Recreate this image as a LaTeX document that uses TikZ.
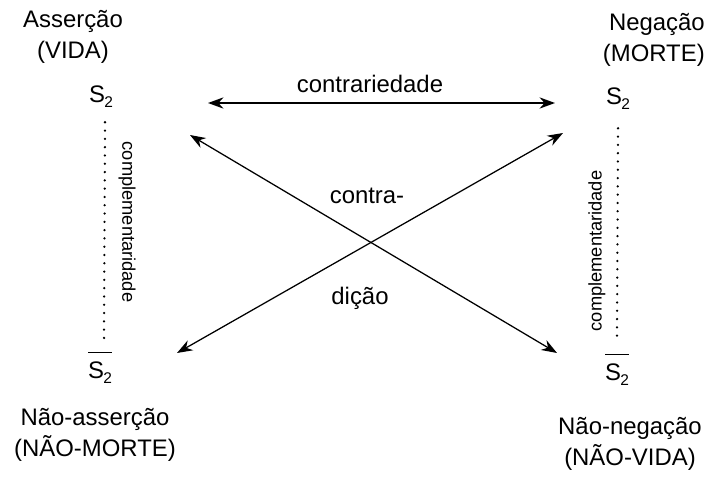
\documentclass[tikz,border=0pt]{standalone}
\usepackage{fontspec}
\setmainfont{Liberation Sans}
\usetikzlibrary{arrows.meta}
\tikzset{square corner/.style={font=\fontsize{17}{22.5}\selectfont, inner sep=0pt}}
\tikzset{square term/.style={font=\fontsize{17}{20}\selectfont, inner sep=0pt}}
\tikzset{square relation/.style={font=\fontsize{17}{20}\selectfont, inner sep=0pt}}
\tikzset{side relation/.style={font=\fontsize{13}{15}\selectfont, inner sep=0pt}}
\tikzset{relation arrow/.style={{Stealth[length=11pt,width=8pt]}-{Stealth[length=11pt,width=8pt]}, line width=0.9pt}}
\tikzset{relation dots/.style={line width=1.8pt, line cap=round, dash pattern=on 0pt off 5.9pt}}
\newcommand{\sterm}{S\kern-0.5pt\raisebox{-0.22em}{\fontsize{11}{11}\selectfont 2}}
\newcommand{\negsterm}{\vbox{\hrule height 0.8pt\kern 6pt\hbox{\sterm}}}

\begin{document}
\begin{tikzpicture}[x=0.025cm, y=-0.025cm]
\useasboundingbox (0,0) rectangle (711,486);
% corners of the square
\node[square corner, align=center] (assercao) at (73,37) {Asserção\\(VIDA)};
\node[square corner, align=right, anchor=east] (negacao) at (705,40) {Negação\\(MORTE)};
\node[square corner, align=center] (naoassercao) at (95,435) {Não-asserção\\(NÃO-MORTE)};
\node[square corner, align=center] (naonegacao) at (630,444) {Não-negação\\(NÃO-VIDA)};
% terms
\node[square term] (s1) at (101,97) {\sterm};
\node[square term] (s2) at (618,99) {\sterm};
\node[square term] (s3) at (100,368) {\negsterm};
\node[square term] (s4) at (617,370) {\negsterm};
% relations
\node[square relation] (contrariedade) at (370,84) {contrariedade};
\node[square relation] (contra) at (367,196) {contra-};
\node[square relation] (dicao) at (360,298) {dição};
\node[side relation, rotate=-90] (compleft) at (127,222) {complementaridade};
\node[side relation, rotate=90] (compright) at (597,251) {complementaridade};
\coordinate (hl) at (208,103);
\coordinate (hr) at (555,103);
\coordinate (tl) at (190,135);
\coordinate (tr) at (563,133);
\coordinate (bl) at (177,353);
\coordinate (br) at (557,353);
\draw[relation arrow, line width=1.1pt] (hl) -- (hr);
\draw[relation arrow] (tl) -- (br);
\draw[relation arrow] (bl) -- (tr);
\draw[relation dots] ([xshift=0.1cm,yshift=-0.35cm]s1.south) -- ([xshift=0.1cm,yshift=0.27cm]s3.north);
\draw[relation dots] ([yshift=-0.45cm]s2.south) -- ([yshift=0.42cm]s4.north);
\end{tikzpicture}
\end{document}
